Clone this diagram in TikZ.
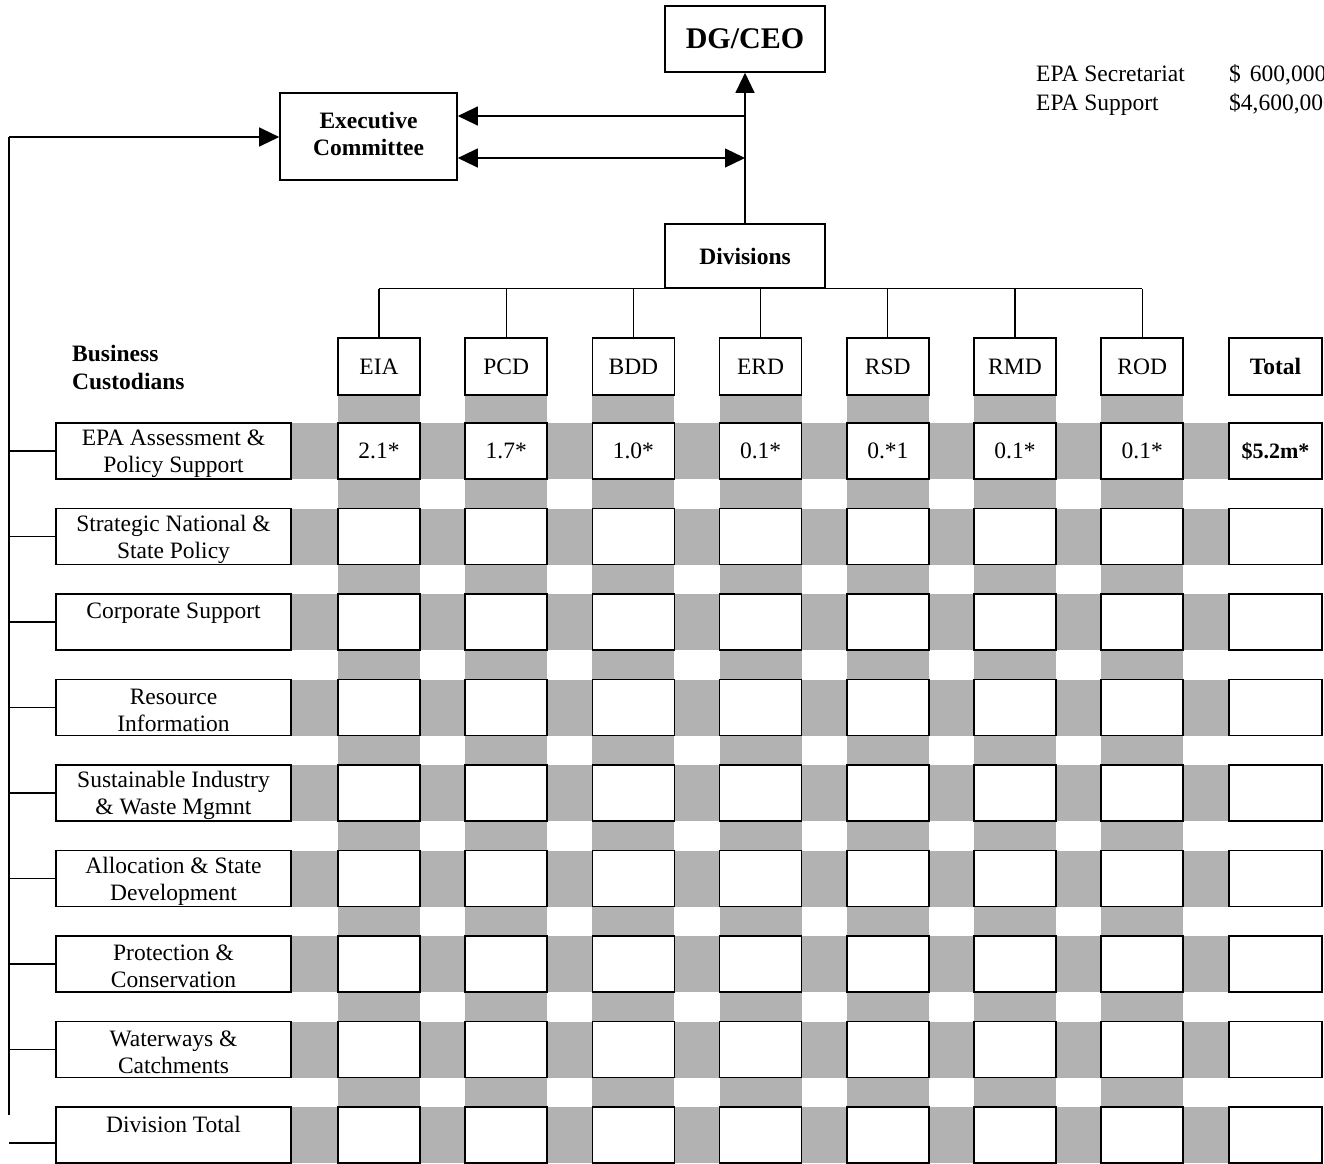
\documentclass[tikz,border=0pt]{standalone}
\usepackage{fontspec}
\setmainfont{Liberation Serif}
\usetikzlibrary{arrows.meta}
\newcommand\mytxt{\fontsize{23.5}{27}\selectfont}
\begin{document}
\begin{tikzpicture}[x=1pt,y=-1pt,
  font=\mytxt,
  band/.style={fill=black!30,draw=none},
  boxbase/.style={draw,line width=1.6pt,fill=white,inner sep=0pt,align=center},
  cellbox/.style={boxbase,minimum width=82pt,minimum height=56pt},
  totbox/.style={boxbase,minimum width=93pt,minimum height=56pt},
  labbox/.style={boxbase,minimum width=235pt,minimum height=56pt},
  labtxt/.style={inner sep=0pt,align=center},
  conn/.style={line width=1.2pt},
  arr/.style={conn,-{Triangle[length=20pt,width=19pt]}},
  dblarr/.style={conn,{Triangle[length=20pt,width=19pt]}-{Triangle[length=20pt,width=19pt]}},
  txtl/.style={anchor=base west,inner sep=0pt}
]
\useasboundingbox (0,0) rectangle (1324,1163);
\clip (0,0) rectangle (1324,1163);
\fill[white] (0,0) rectangle (1324,1163);

% grey bands
\foreach \r in {0,...,8}{
  \fill[band] (291,{423+85.5*\r}) rectangle (1229,{479+85.5*\r});
}
\foreach \x in {379,506.2,633.4,760.6,887.8,1015,1142.2}{
  \fill[band] ({\x-41},396) rectangle ({\x+41},1163);
}

% top hierarchy
\node[boxbase,minimum width=160pt,minimum height=66pt,font=\fontsize{30}{34}\selectfont\bfseries] (ceo) at (745,39) {DG/CEO};
\node[boxbase,minimum width=177pt,minimum height=87pt] (exec) at (368.5,136.5) {};
\node[labtxt,font=\mytxt\bfseries] (exect) at (368.5,133.5) {Executive\\Committee};
\node[boxbase,minimum width=160pt,minimum height=64pt,font=\mytxt\bfseries] (div) at (745,256) {Divisions};

\draw[arr] (div.north) -- (ceo.south);
\coordinate (j1) at (745,116);
\coordinate (j2) at (745,158);
\draw[arr] (j1) -- (j1 -| exec.east);
\draw[dblarr] (j2 -| exec.east) -- (j2);

% left feedback line
\coordinate (L0) at (9,137);
\coordinate (Lend) at (9,1115);
\draw[arr] (L0) -- (L0 -| exec.west);
\draw[conn] (L0) -- (Lend);

% EPA figures
\node[txtl] (sec) at (1036,81) {EPA Secretariat};
\node[txtl] (sup) at (1036,110) {EPA Support};
\node[txtl] (secv) at (1229,81) {\$\hspace{9pt}600,000};
\node[txtl] (supv) at (1229,110) {\$4,600,000};

% Business custodians heading
\node[txtl,font=\mytxt\bfseries] (bc1) at (72,361) {Business};
\node[txtl,font=\mytxt\bfseries] (bc2) at (72,389) {Custodians};

% division headers
\foreach \n/\x in {EIA/379,PCD/506.2,BDD/633.4,ERD/760.6,RSD/887.8,RMD/1015,ROD/1142.2}{
  \node[cellbox,minimum height=57pt] (d\n) at (\x,366.5) {\n};
  \draw[conn] (d\n.north) -- (d\n.north |- div.south);
}
\draw[conn] (dEIA.north |- div.south) -- (dROD.north |- div.south);
\node[totbox,minimum height=57pt,font=\mytxt\bfseries] (dTot) at (1275.5,366.5) {Total};

% row labels
\foreach \r/\t in {1/{EPA Assessment \&\\Policy Support},
                   2/{Strategic National \&\\State Policy},
                   3/{Corporate Support\\\phantom{X}},
                   4/{Resource\\Information},
                   5/{Sustainable Industry\\\& Waste Mgmnt},
                   6/{Allocation \& State\\Development},
                   7/{Protection \&\\Conservation},
                   8/{Waterways \&\\Catchments},
                   9/{Division Total\\\phantom{X}}}{
  \node[labbox] (l\r) at (173.5,{451+85.5*(\r-1)}) {};
  \node[labtxt] (t\r) at (173.5,{453.5+85.5*(\r-1)}) {\t};
}

\foreach \r in {1,...,8}{
  \draw[conn] (l\r.west -| L0) -- (l\r.west);
}
\coordinate (s9) at (9,1143);
\draw[conn] (s9) -- (s9 -| l9.west);

% first row values
\foreach \n/\x/\v in {EIA/379/2.1*,PCD/506.2/1.7*,BDD/633.4/1.0*,ERD/760.6/0.1*,RSD/887.8/0.*1,RMD/1015/0.1*,ROD/1142.2/0.1*}{
  \node[cellbox] (c1\n) at (\x,451) {\v};
}
\node[totbox,font=\fontsize{22}{26}\selectfont\bfseries] (c1Tot) at (1275.5,451) {\$5.2m*};

% empty cells
\foreach \r in {2,...,9}{
  \foreach \n/\x in {EIA/379,PCD/506.2,BDD/633.4,ERD/760.6,RSD/887.8,RMD/1015,ROD/1142.2}{
    \node[cellbox] (c\r\n) at (\x,{451+85.5*(\r-1)}) {};
  }
  \node[totbox] (c\r Tot) at (1275.5,{451+85.5*(\r-1)}) {};
}
\end{tikzpicture}
\end{document}
